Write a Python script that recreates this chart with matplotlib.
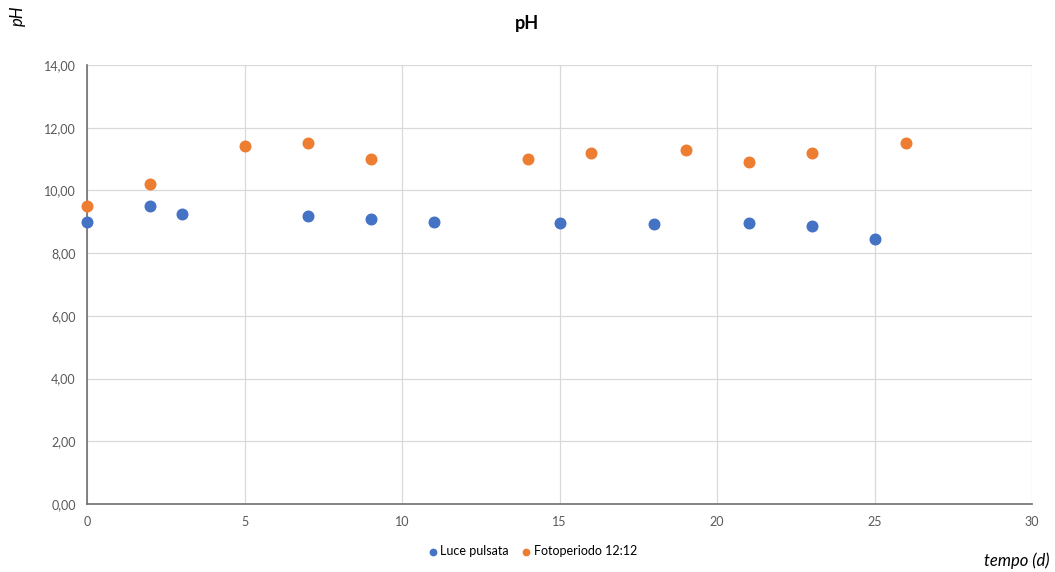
import matplotlib.pyplot as plt
import numpy as np

plt.rcParams['font.family'] = ['Lato', 'DejaVu Sans']

# Luce pulsata
days_pulse = [0, 2, 3, 7, 9, 11, 15, 18, 21, 23, 25]
ph_pulse = [9.0, 9.5, 9.25, 9.2, 9.1, 9.0, 8.95, 8.93, 8.95, 8.85, 8.45]

# Fotoperiodo 12:12
days_photo = [0, 2, 5, 7, 9, 14, 16, 19, 21, 23, 26]
ph_photo = [9.5, 10.2, 11.42, 11.5, 11.0, 11.0, 11.2, 11.3, 10.9, 11.2, 11.5]

fig = plt.figure(figsize=(10.55, 5.72), dpi=100)
ax = fig.add_axes([87 / 1055, 1 - 504 / 572, (1032 - 87) / 1055, (504 - 65) / 572])

ax.scatter(days_pulse, ph_pulse, s=58, color='#4472C4', label='Luce pulsata', zorder=3, clip_on=False)
ax.scatter(days_photo, ph_photo, s=58, color='#ED7D31', label='Fotoperiodo 12:12', zorder=3, clip_on=False)

ax.set_xlim(0, 30)
ax.set_ylim(0, 14)
ax.set_xticks(np.arange(0, 31, 5))
ax.set_yticks(np.arange(0, 15, 2))
ax.set_yticklabels([f'{v:.2f}'.replace('.', ',') for v in np.arange(0, 15, 2)])
ax.grid(True, color='#d9d9d9', linewidth=0.9)
ax.set_axisbelow(True)
for s in ['top', 'right']:
    ax.spines[s].set_visible(False)
ax.spines['left'].set_color('#6f6f6f')
ax.spines['bottom'].set_color('#6f6f6f')
ax.spines['left'].set_linewidth(1.2)
ax.spines['bottom'].set_linewidth(1.2)
ax.tick_params(length=0, labelsize=9, colors='#595959', pad=8)
ax.tick_params(axis='x', pad=9)

fig.text(527 / 1055, 1 - 24 / 572, 'pH', ha='center', va='center', fontsize=13, fontweight='bold')
fig.text(18 / 1055, 1 - 16 / 572, 'pH', ha='center', va='center', fontsize=12, style='italic', rotation=90)
fig.text(1050 / 1055, 1 - 561 / 572, 'tempo (d)', ha='right', va='center', fontsize=12, style='italic')

fig.legend(loc='center', bbox_to_anchor=(533 / 1055, 1 - 551 / 572), ncol=2, frameon=False,
           fontsize=9, handlelength=0.6, handletextpad=0.3, columnspacing=1.1, markerscale=0.6)

fig.savefig('out.png', dpi=100)
